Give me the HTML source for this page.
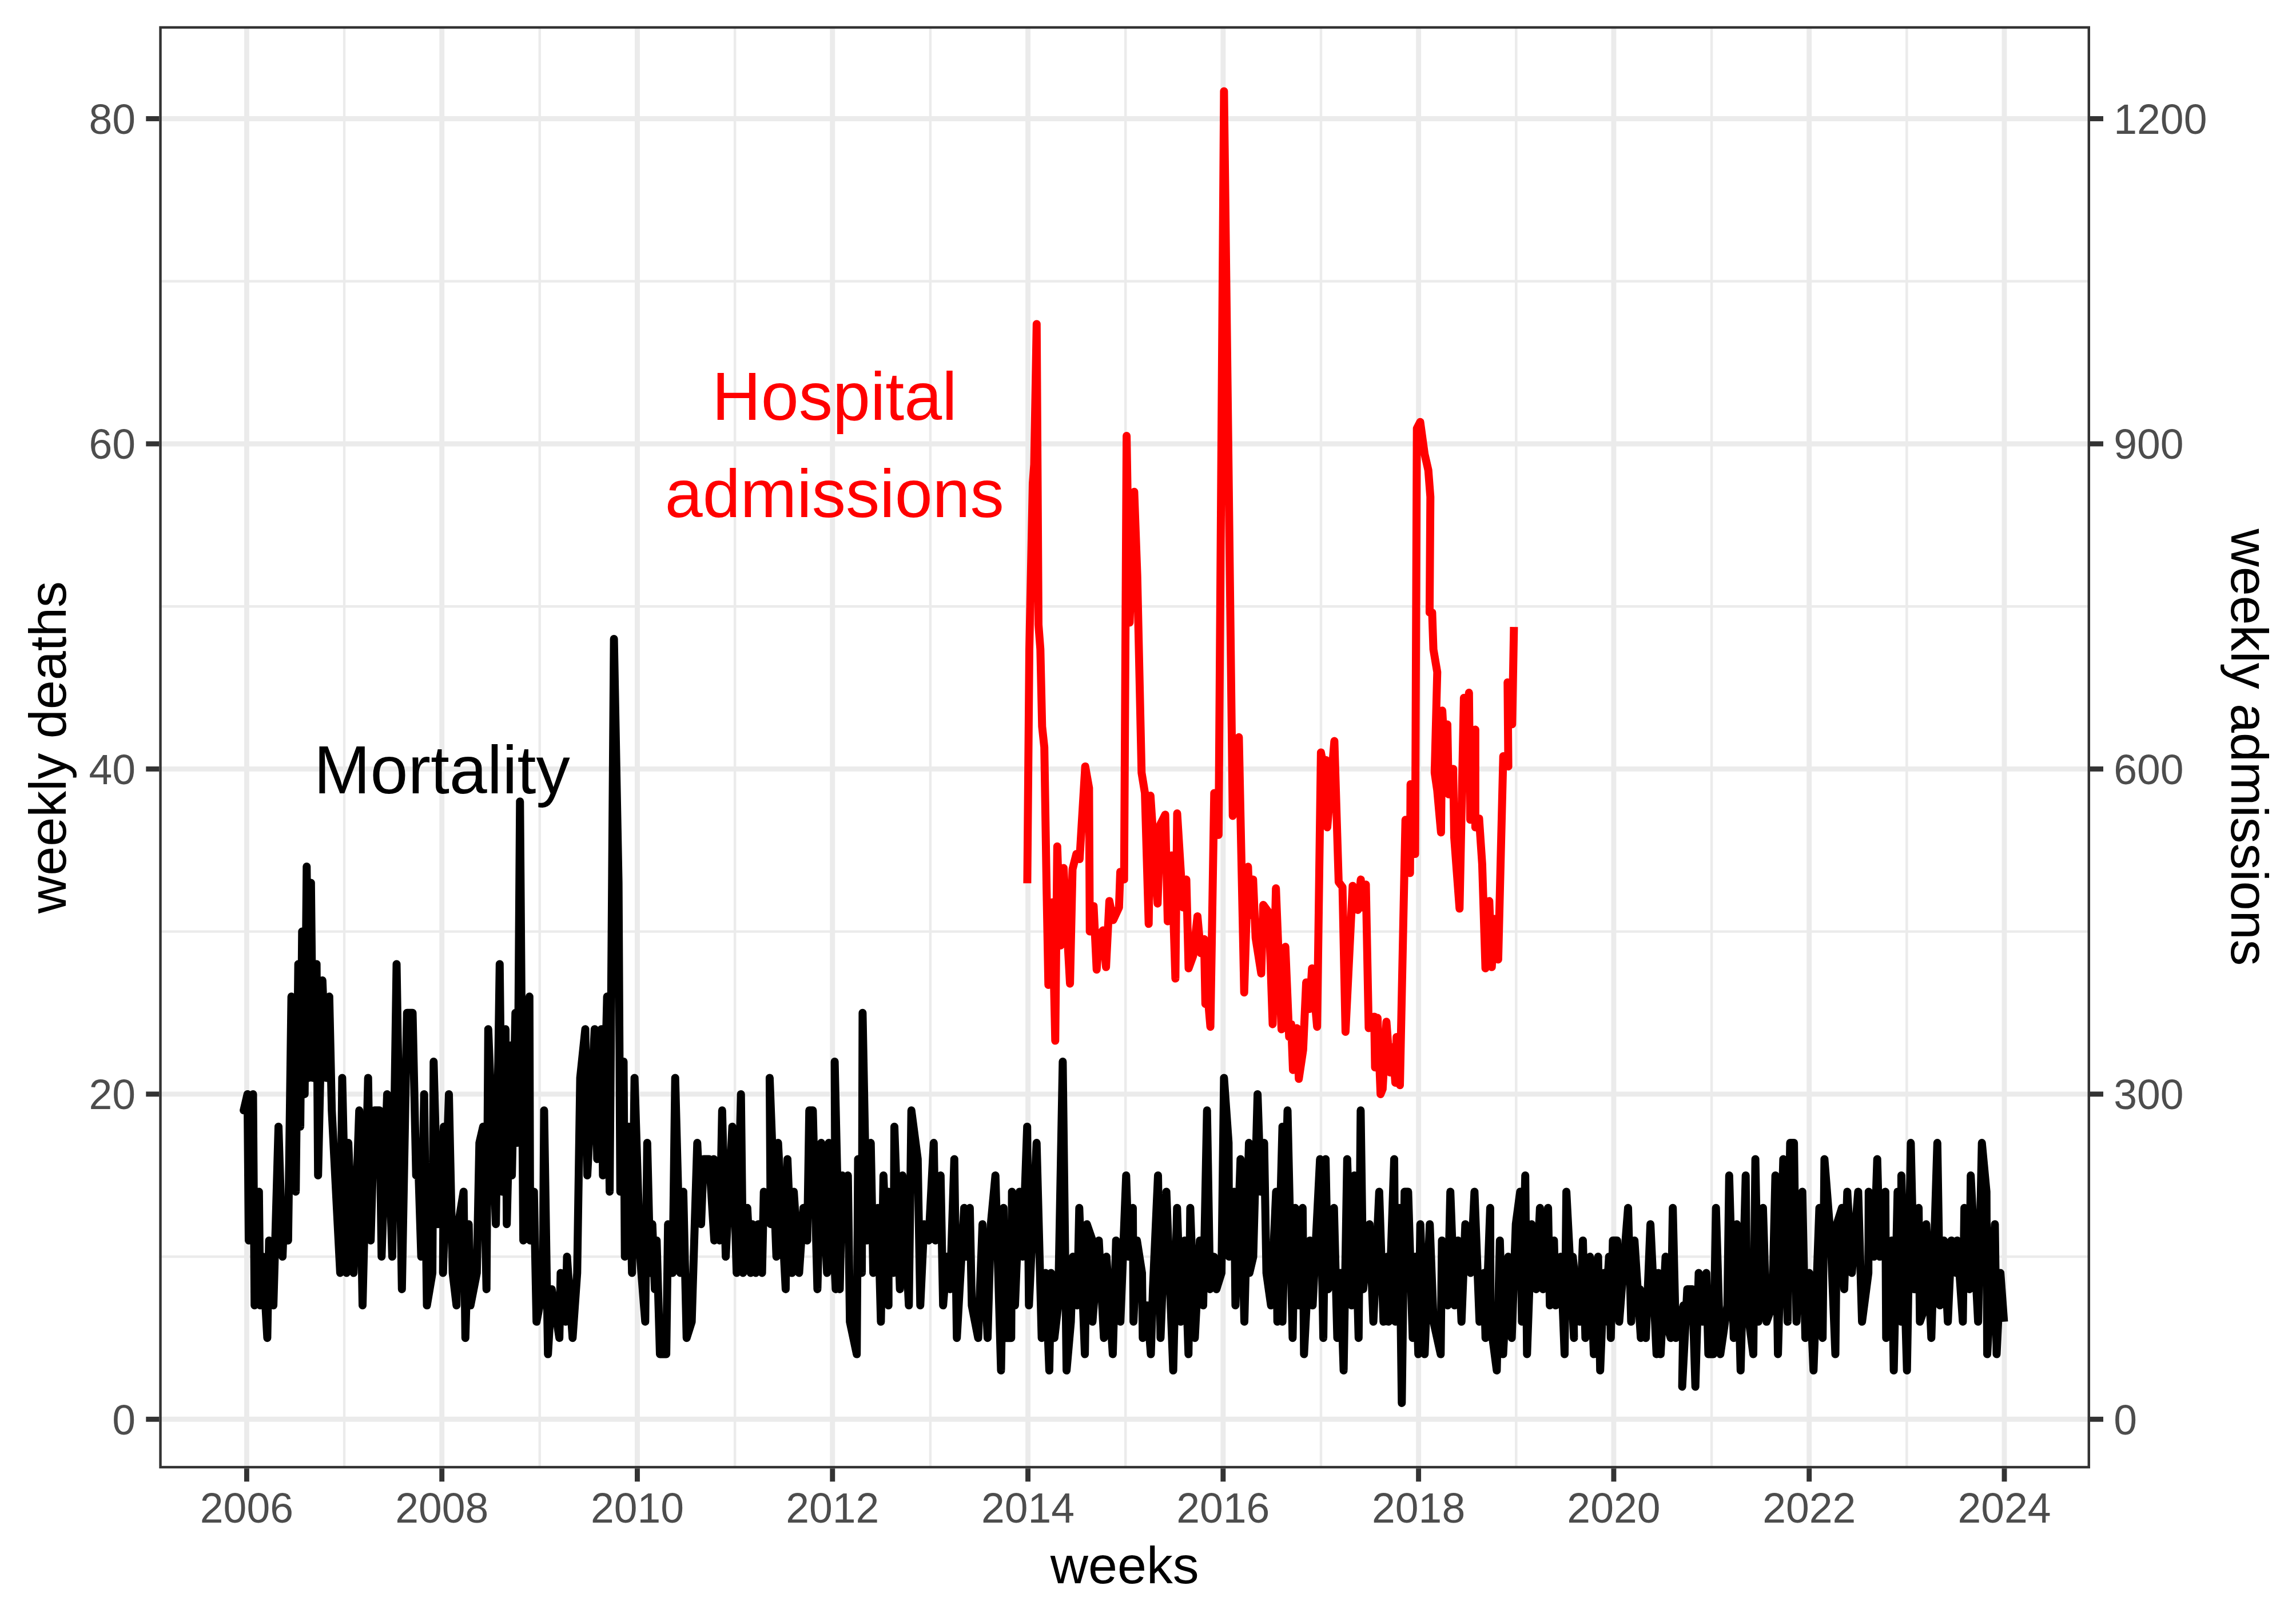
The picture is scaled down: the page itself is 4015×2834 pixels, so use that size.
<!DOCTYPE html>
<html><head><meta charset="utf-8"><style>html,body{margin:0;padding:0;background:#fff;overflow:hidden}svg{display:block}</style></head>
<body><svg width="4015" height="2834" viewBox="0 0 4015 2834">
<rect width="4015" height="2834" fill="#FFFFFF"/>
<defs><clipPath id="pc"><rect x="278.3" y="45.7" width="3376.70" height="2521.60"/></clipPath></defs>
<g clip-path="url(#pc)">
<line x1="602.05" y1="45.7" x2="602.05" y2="2567.3" stroke="#EBEBEB" stroke-width="4.45"/>
<line x1="943.82" y1="45.7" x2="943.82" y2="2567.3" stroke="#EBEBEB" stroke-width="4.45"/>
<line x1="1285.13" y1="45.7" x2="1285.13" y2="2567.3" stroke="#EBEBEB" stroke-width="4.45"/>
<line x1="1626.90" y1="45.7" x2="1626.90" y2="2567.3" stroke="#EBEBEB" stroke-width="4.45"/>
<line x1="1968.20" y1="45.7" x2="1968.20" y2="2567.3" stroke="#EBEBEB" stroke-width="4.45"/>
<line x1="2309.97" y1="45.7" x2="2309.97" y2="2567.3" stroke="#EBEBEB" stroke-width="4.45"/>
<line x1="2651.27" y1="45.7" x2="2651.27" y2="2567.3" stroke="#EBEBEB" stroke-width="4.45"/>
<line x1="2993.05" y1="45.7" x2="2993.05" y2="2567.3" stroke="#EBEBEB" stroke-width="4.45"/>
<line x1="3334.35" y1="45.7" x2="3334.35" y2="2567.3" stroke="#EBEBEB" stroke-width="4.45"/>
<line x1="278.3" y1="2197.08" x2="3655.0" y2="2197.08" stroke="#EBEBEB" stroke-width="4.45"/>
<line x1="278.3" y1="1628.63" x2="3655.0" y2="1628.63" stroke="#EBEBEB" stroke-width="4.45"/>
<line x1="278.3" y1="1060.17" x2="3655.0" y2="1060.17" stroke="#EBEBEB" stroke-width="4.45"/>
<line x1="278.3" y1="491.73" x2="3655.0" y2="491.73" stroke="#EBEBEB" stroke-width="4.45"/>
<line x1="431.40" y1="45.7" x2="431.40" y2="2567.3" stroke="#EBEBEB" stroke-width="8.9"/>
<line x1="772.70" y1="45.7" x2="772.70" y2="2567.3" stroke="#EBEBEB" stroke-width="8.9"/>
<line x1="1114.47" y1="45.7" x2="1114.47" y2="2567.3" stroke="#EBEBEB" stroke-width="8.9"/>
<line x1="1455.78" y1="45.7" x2="1455.78" y2="2567.3" stroke="#EBEBEB" stroke-width="8.9"/>
<line x1="1797.55" y1="45.7" x2="1797.55" y2="2567.3" stroke="#EBEBEB" stroke-width="8.9"/>
<line x1="2138.85" y1="45.7" x2="2138.85" y2="2567.3" stroke="#EBEBEB" stroke-width="8.9"/>
<line x1="2480.62" y1="45.7" x2="2480.62" y2="2567.3" stroke="#EBEBEB" stroke-width="8.9"/>
<line x1="2821.93" y1="45.7" x2="2821.93" y2="2567.3" stroke="#EBEBEB" stroke-width="8.9"/>
<line x1="3163.70" y1="45.7" x2="3163.70" y2="2567.3" stroke="#EBEBEB" stroke-width="8.9"/>
<line x1="3505.00" y1="45.7" x2="3505.00" y2="2567.3" stroke="#EBEBEB" stroke-width="8.9"/>
<line x1="278.3" y1="2481.30" x2="3655.0" y2="2481.30" stroke="#EBEBEB" stroke-width="8.9"/>
<line x1="278.3" y1="1912.85" x2="3655.0" y2="1912.85" stroke="#EBEBEB" stroke-width="8.9"/>
<line x1="278.3" y1="1344.40" x2="3655.0" y2="1344.40" stroke="#EBEBEB" stroke-width="8.9"/>
<line x1="278.3" y1="775.95" x2="3655.0" y2="775.95" stroke="#EBEBEB" stroke-width="8.9"/>
<line x1="278.3" y1="207.50" x2="3655.0" y2="207.50" stroke="#EBEBEB" stroke-width="8.9"/>
<polyline points="426.6,1941.3 426.1,1941.3 432.8,1912.9 435.0,2168.7 442.5,1912.9 445.2,2282.3 452.8,2083.4 455.0,2282.3 459.4,2197.1 467.4,2339.2 470.5,2168.7 478.1,2282.3 487.0,1969.7 494.1,2197.1 497.2,2111.8 503.8,2168.7 509.6,1742.3 517.2,2083.4 521.6,1685.5 525.1,1969.7 528.3,1628.6 532.7,1912.9 536.3,1514.9 540.2,1884.4 543.8,1543.4 547.4,1884.4 553.6,1685.5 556.2,2055.0 563.8,1713.9 570.5,1884.4 575.8,1742.3 580.2,1941.3 594.9,2225.5 598.4,1884.4 606.0,2225.5 609.1,1998.1 618.4,2225.5 628.2,1941.3 634.0,2282.3 643.7,1884.4 648.2,2168.7 654.8,1941.3 663.7,1941.3 667.3,2197.1 677.0,1912.9 685.9,2197.1 693.5,1685.5 702.8,2253.9 711.7,1770.7 721.5,1770.7 727.7,2055.0 731.2,2026.5 736.6,2197.1 741.7,1912.9 746.5,2282.3 756.1,2225.5 758.3,1856.0 765.9,2140.2 776.1,1969.7 774.7,2225.5 785.0,1912.9 791.6,2225.5 798.3,2282.3 801.4,2140.2 810.7,2083.4 813.8,2339.2 819.6,2140.2 822.7,2282.3 833.8,2225.5 838.3,1998.1 844.9,1969.7 850.7,2253.9 853.8,1799.2 867.1,2140.2 873.8,1685.5 878.2,2083.4 884.0,1799.2 886.2,2140.2 893.8,1827.6 895.1,2055.0 901.3,1770.7 904.9,1998.1 909.3,1401.2 915.1,2168.7 925.8,1742.3 927.1,2168.7 933.7,2083.4 938.2,2310.8 949.3,2253.9 951.5,1941.3 958.2,2367.6 964.8,2253.9 978.2,2339.2 980.4,2225.5 989.3,2310.8 991.5,2197.1 1001.3,2339.2 1009.3,2225.5 1014.6,1884.4 1023.5,1799.2 1027.0,2055.0 1039.9,1799.2 1044.3,2026.5 1051.7,1799.2 1054.3,2055.0 1061.6,1742.3 1066.1,2083.4 1073.6,1117.0 1081.6,1543.4 1084.7,2083.4 1090.5,1856.0 1092.7,2197.1 1099.4,1969.7 1105.2,2225.5 1109.6,1884.4 1119.4,2197.1 1128.3,2310.8 1131.8,1998.1 1137.2,2225.5 1140.7,2140.2 1145.1,2253.9 1148.3,2168.7 1154.0,2367.6 1165.1,2367.6 1168.2,2140.2 1176.2,2225.5 1180.7,1884.4 1189.6,2225.5 1194.9,2083.4 1200.7,2339.2 1209.6,2310.8 1219.3,1998.1 1226.0,2140.2 1230.4,2026.5 1240.2,2026.5 1249.1,2168.7 1248.2,2026.5 1258.4,2168.7 1262.8,1941.3 1269.1,2197.1 1280.6,1969.7 1288.2,2225.5 1295.7,1912.9 1299.3,2225.5 1306.8,2111.8 1312.6,2225.5 1315.7,2140.2 1321.5,2225.5 1325.9,2140.2 1332.6,2225.5 1335.7,2083.4 1347.7,2140.2 1345.9,1884.4 1357.7,2197.1 1360.6,1998.1 1373.9,2253.9 1377.0,2026.5 1385.0,2225.5 1388.1,2083.4 1397.4,2225.5 1405.0,2111.8 1411.6,2168.7 1415.2,1941.3 1421.4,1941.3 1429.4,2253.9 1436.1,1998.1 1446.3,2225.5 1449.4,1998.1 1461.4,2253.9 1459.6,1856.0 1468.5,2253.9 1472.9,2055.0 1477.4,2140.2 1482.7,2055.0 1486.2,2310.8 1498.2,2367.6 1500.5,2026.5 1507.1,2225.5 1508.4,1770.7 1516.0,2168.7 1522.7,1998.1 1527.1,2225.5 1535.1,2111.8 1540.4,2310.8 1544.9,2055.0 1553.7,2282.3 1553.7,2083.4 1562.6,2225.5 1564.0,1969.7 1573.7,2253.9 1578.2,2055.0 1589.3,2282.3 1593.7,1941.3 1604.8,2026.5 1609.3,2282.3 1615.9,2140.2 1623.9,2168.7 1632.8,1998.1 1635.9,2168.7 1644.8,2055.0 1649.2,2282.3 1655.9,2197.1 1661.4,2253.9 1668.8,2026.5 1673.2,2339.2 1686.1,2111.8 1688.3,2197.1 1695.9,2111.8 1699.4,2282.3 1710.5,2339.2 1718.1,2140.2 1727.0,2339.2 1732.7,2140.2 1740.7,2055.0 1750.5,2396.0 1754.9,2111.8 1759.4,2339.2 1768.3,2339.2 1769.6,2083.4 1774.9,2282.3 1782.9,2083.4 1788.2,2197.1 1796.2,1969.7 1799.3,2282.3 1812.7,1998.1 1821.6,2339.2 1828.2,2225.5 1834.9,2396.0 1838.0,2225.5 1843.8,2339.2 1850.4,2282.3 1858.4,1856.0 1865.1,2396.0 1872.6,2310.8 1876.2,2197.1 1883.7,2282.3 1887.3,2111.8 1897.1,2367.6 1900.6,2140.2 1910.4,2168.7 1910.4,2310.8 1921.5,2168.7 1930.4,2339.2 1934.8,2197.1 1945.9,2367.6 1951.7,2168.7 1959.2,2310.8 1969.3,2055.0 1973.9,2197.1 1981.0,2111.8 1982.1,2310.8 1988.1,2168.7 1997.0,2225.5 1998.3,2339.2 2005.9,2282.3 2012.5,2367.6 2016.1,2253.9 2025.0,2055.0 2029.4,2339.2 2039.6,2083.4 2051.6,2396.0 2058.3,2111.8 2064.9,2310.8 2071.6,2168.7 2078.3,2367.6 2081.4,2111.8 2089.4,2339.2 2098.2,2168.7 2104.0,2282.3 2110.7,1941.3 2116.0,2253.9 2122.7,2197.1 2127.1,2253.9 2136.0,2225.5 2140.4,1884.4 2148.4,1998.1 2149.3,2197.1 2158.2,2083.4 2160.4,2282.3 2169.3,2026.5 2176.0,2310.8 2184.0,1998.1 2184.9,2225.5 2191.5,2197.1 2199.1,1912.9 2204.8,2083.4 2210.6,1998.1 2214.6,2225.5 2222.6,2282.3 2231.5,2083.4 2233.7,2310.8 2242.6,1969.7 2242.6,2310.8 2251.5,1941.3 2260.4,2339.2 2264.8,2111.8 2271.5,2282.3 2277.9,2111.8 2280.3,2367.6 2290.6,2168.7 2295.4,2282.3 2308.3,2026.5 2314.1,2339.2 2318.1,2026.5 2322.5,2253.9 2332.7,2111.8 2338.5,2339.2 2343.8,2225.5 2349.6,2396.0 2355.8,2026.5 2363.8,2282.3 2368.3,2055.0 2375.8,2339.2 2379.4,1941.3 2383.8,2253.9 2394.9,2140.2 2401.6,2310.8 2411.8,2083.4 2419.3,2310.8 2426.0,2197.1 2428.2,2310.8 2438.0,2026.5 2440.2,2310.8 2446.9,2111.8 2451.3,2452.9 2456.2,2083.4 2462.4,2083.4 2470.4,2339.2 2474.9,2197.1 2480.2,2367.6 2483.7,2140.2 2491.3,2367.6 2500.2,2140.2 2506.8,2310.8 2519.3,2367.6 2521.5,2168.7 2531.7,2282.3 2536.2,2083.4 2543.7,2282.3 2549.5,2168.7 2555.7,2310.8 2562.4,2140.2 2571.7,2225.5 2578.4,2083.4 2587.2,2310.8 2594.8,2225.5 2597.7,2339.2 2605.9,2111.8 2606.3,2310.8 2617.4,2396.0 2622.8,2168.7 2628.5,2367.6 2637.4,2197.1 2643.6,2339.2 2650.7,2140.2 2658.3,2083.4 2661.4,2310.8 2667.2,2055.0 2670.3,2367.6 2678.3,2140.2 2686.3,2253.9 2692.9,2111.8 2698.3,2253.9 2707.1,2111.8 2710.2,2282.3 2717.4,2168.7 2720.5,2282.3 2729.3,2197.1 2736.0,2367.6 2739.1,2083.4 2752.4,2339.2 2750.2,2197.1 2762.7,2310.8 2768.0,2168.7 2772.4,2339.2 2780.4,2197.1 2787.1,2367.6 2794.6,2197.1 2798.2,2396.0 2804.9,2225.5 2807.1,2310.8 2813.7,2197.1 2816.8,2339.2 2820.4,2168.7 2827.9,2168.7 2831.5,2310.8 2847.0,2111.8 2852.4,2310.8 2858.2,2168.7 2869.3,2339.2 2867.9,2253.9 2878.1,2339.2 2886.1,2140.2 2896.8,2367.6 2899.9,2225.5 2903.9,2367.6 2912.6,2197.1 2913.2,2310.8 2921.6,2339.2 2925.2,2111.8 2930.5,2339.2 2943.9,2282.3 2941.6,2424.5 2950.5,2253.9 2955.0,2253.9 2959.4,2253.9 2964.7,2424.5 2970.5,2225.5 2977.2,2310.8 2983.8,2225.5 2987.4,2367.6 2996.3,2367.6 3000.7,2111.8 3008.3,2367.6 3020.7,2282.3 3023.8,2055.0 3031.8,2339.2 3037.1,2140.2 3043.8,2396.0 3052.7,2055.0 3054.9,2282.3 3066.0,2367.6 3069.6,2026.5 3074.9,2310.8 3082.9,2111.8 3089.1,2310.8 3099.3,2282.3 3104.6,2055.0 3109.1,2367.6 3118.4,2026.5 3126.0,2310.8 3130.4,1998.1 3137.1,1998.1 3141.5,2310.8 3151.7,2083.4 3157.0,2339.2 3163.7,2225.5 3171.3,2396.0 3181.5,2111.8 3187.2,2339.2 3190.4,2026.5 3201.5,2168.7 3209.5,2367.6 3212.1,2140.2 3221.0,2111.8 3225.0,2253.9 3230.3,2083.4 3238.3,2225.5 3249.4,2083.4 3256.1,2310.8 3267.2,2225.5 3267.8,2083.4 3277.0,2197.1 3282.7,2026.5 3287.2,2197.1 3296.9,2083.4 3298.3,2339.2 3308.0,2168.7 3311.6,2396.0 3318.3,2083.4 3324.9,2310.8 3324.9,2055.0 3334.7,2396.0 3341.4,1998.1 3347.1,2253.9 3355.1,2111.8 3357.3,2310.8 3367.1,2282.3 3368.4,2140.2 3377.3,2339.2 3387.8,1998.1 3392.4,2282.3 3399.1,2168.7 3406.2,2310.8 3412.4,2168.7 3420.4,2225.5 3422.6,2168.7 3432.4,2310.8 3435.1,2111.8 3444.0,2253.9 3446.2,2055.0 3459.1,2310.8 3465.7,1998.1 3473.7,2083.4 3475.0,2367.6 3488.4,2140.2 3491.5,2367.6 3498.1,2225.5 3504.4,2310.8" fill="none" stroke="#000000" stroke-width="14.0" stroke-linejoin="round" stroke-linecap="butt"/><polyline points="1796.4,1544.2 1800.0,1136.0 1806.0,845.0 1808.5,812.0 1812.8,566.5 1816.0,1092.0 1819.3,1135.0 1822.3,1270.0 1826.2,1306.6 1830.2,1555.3 1833.3,1721.9 1840.0,1577.5 1845.3,1819.6 1848.8,1479.8 1854.6,1653.0 1859.9,1517.6 1871.1,1719.7 1875.5,1519.8 1882.2,1493.1 1887.9,1502.0 1897.7,1339.9 1904.4,1377.7 1905.7,1628.6 1912.4,1584.2 1917.7,1695.2 1922.1,1635.3 1928.8,1626.4 1934.1,1690.8 1939.9,1575.3 1946.6,1608.6 1956.8,1586.4 1959.0,1524.2 1965.7,1537.6 1970.1,762.1 1975.4,1088.5 1983.4,859.8 1988.7,1006.4 1996.3,1351.0 2002.1,1386.5 2008.7,1615.3 2011.8,1391.0 2024.3,1579.7 2028.7,1442.1 2037.6,1424.3 2042.0,1610.8 2048.7,1495.4 2055.4,1710.8 2058.5,1422.1 2068.7,1586.4 2074.5,1537.6 2078.5,1693.0 2086.5,1670.8 2094.0,1602.0 2099.8,1666.4 2105.6,1641.9 2107.8,1755.2 2111.3,1733.0 2116.6,1795.2 2123.3,1386.5 2130.9,1459.8 2140.4,159.5 2155.7,1426.5 2166.4,1288.8 2175.7,1735.2 2182.4,1515.3 2185.5,1599.7 2191.3,1537.6 2195.7,1639.7 2205.5,1701.9 2209.0,1582.0 2218.8,1595.3 2225.5,1790.7 2231.2,1553.1 2241.0,1799.6 2247.7,1655.3 2254.3,1812.9 2257.9,1790.7 2261.0,1870.7 2267.7,1797.4 2271.2,1886.2 2278.8,1835.1 2284.1,1717.4 2289.9,1764.1 2294.3,1693.0 2303.2,1795.2 2309.9,1315.5 2315.6,1346.6 2318.7,1328.8 2321.0,1446.5 2333.4,1295.5 2340.9,1542.0 2347.6,1550.9 2352.9,1804.0 2365.4,1548.7 2374.3,1590.9 2379.6,1537.6 2383.1,1586.4 2388.5,1546.4 2393.4,1797.4 2403.1,1777.4 2404.5,1866.2 2408.9,1779.6 2414.2,1912.9 2417.8,1904.0 2424.4,1786.3 2431.1,1875.1 2435.5,1830.7 2440.0,1892.9 2442.2,1812.9 2448.0,1897.3 2457.7,1433.2 2465.7,1526.4 2466.6,1371.0 2474.6,1493.1 2477.7,748.9 2483.5,737.8 2491.1,793.3 2497.7,822.1 2501.3,868.8 2499.9,1070.9 2504.4,1070.9 2506.6,1135.3 2513.3,1175.2 2508.8,1351.0 2513.3,1382.1 2519.9,1455.4 2522.1,1242.2 2526.6,1324.4 2531.0,1266.6 2533.2,1388.8 2541.2,1344.3 2543.0,1464.3 2552.3,1588.6 2559.9,1220.0 2564.3,1333.2 2568.8,1211.1 2571.0,1433.2 2579.9,1275.5 2579.9,1446.5 2586.5,1431.0 2591.9,1510.9 2597.6,1693.0 2604.3,1575.3 2608.7,1690.8 2613.2,1606.4 2619.9,1677.5 2628.7,1322.1 2637.6,1339.9 2636.3,1193.0 2644.3,1266.3 2647.4,1096.2" fill="none" stroke="#FF0000" stroke-width="14.0" stroke-linejoin="round" stroke-linecap="butt"/>
<rect x="278.3" y="45.7" width="3376.70" height="2521.60" fill="none" stroke="#333333" stroke-width="8.9"/>
</g>
<line x1="431.40" y1="2567.3" x2="431.40" y2="2590.3" stroke="#333333" stroke-width="8.9"/>
<line x1="772.70" y1="2567.3" x2="772.70" y2="2590.3" stroke="#333333" stroke-width="8.9"/>
<line x1="1114.47" y1="2567.3" x2="1114.47" y2="2590.3" stroke="#333333" stroke-width="8.9"/>
<line x1="1455.78" y1="2567.3" x2="1455.78" y2="2590.3" stroke="#333333" stroke-width="8.9"/>
<line x1="1797.55" y1="2567.3" x2="1797.55" y2="2590.3" stroke="#333333" stroke-width="8.9"/>
<line x1="2138.85" y1="2567.3" x2="2138.85" y2="2590.3" stroke="#333333" stroke-width="8.9"/>
<line x1="2480.62" y1="2567.3" x2="2480.62" y2="2590.3" stroke="#333333" stroke-width="8.9"/>
<line x1="2821.93" y1="2567.3" x2="2821.93" y2="2590.3" stroke="#333333" stroke-width="8.9"/>
<line x1="3163.70" y1="2567.3" x2="3163.70" y2="2590.3" stroke="#333333" stroke-width="8.9"/>
<line x1="3505.00" y1="2567.3" x2="3505.00" y2="2590.3" stroke="#333333" stroke-width="8.9"/>
<line x1="255.3" y1="2481.30" x2="278.3" y2="2481.30" stroke="#333333" stroke-width="8.9"/>
<line x1="3655.0" y1="2481.30" x2="3678.0" y2="2481.30" stroke="#333333" stroke-width="8.9"/>
<line x1="255.3" y1="1912.85" x2="278.3" y2="1912.85" stroke="#333333" stroke-width="8.9"/>
<line x1="3655.0" y1="1912.85" x2="3678.0" y2="1912.85" stroke="#333333" stroke-width="8.9"/>
<line x1="255.3" y1="1344.40" x2="278.3" y2="1344.40" stroke="#333333" stroke-width="8.9"/>
<line x1="3655.0" y1="1344.40" x2="3678.0" y2="1344.40" stroke="#333333" stroke-width="8.9"/>
<line x1="255.3" y1="775.95" x2="278.3" y2="775.95" stroke="#333333" stroke-width="8.9"/>
<line x1="3655.0" y1="775.95" x2="3678.0" y2="775.95" stroke="#333333" stroke-width="8.9"/>
<line x1="255.3" y1="207.50" x2="278.3" y2="207.50" stroke="#333333" stroke-width="8.9"/>
<line x1="3655.0" y1="207.50" x2="3678.0" y2="207.50" stroke="#333333" stroke-width="8.9"/>
<text x="431.40" y="2662" font-family="Liberation Sans, sans-serif" font-size="73.33" fill="#4D4D4D" text-anchor="middle">2006</text>
<text x="772.70" y="2662" font-family="Liberation Sans, sans-serif" font-size="73.33" fill="#4D4D4D" text-anchor="middle">2008</text>
<text x="1114.47" y="2662" font-family="Liberation Sans, sans-serif" font-size="73.33" fill="#4D4D4D" text-anchor="middle">2010</text>
<text x="1455.78" y="2662" font-family="Liberation Sans, sans-serif" font-size="73.33" fill="#4D4D4D" text-anchor="middle">2012</text>
<text x="1797.55" y="2662" font-family="Liberation Sans, sans-serif" font-size="73.33" fill="#4D4D4D" text-anchor="middle">2014</text>
<text x="2138.85" y="2662" font-family="Liberation Sans, sans-serif" font-size="73.33" fill="#4D4D4D" text-anchor="middle">2016</text>
<text x="2480.62" y="2662" font-family="Liberation Sans, sans-serif" font-size="73.33" fill="#4D4D4D" text-anchor="middle">2018</text>
<text x="2821.93" y="2662" font-family="Liberation Sans, sans-serif" font-size="73.33" fill="#4D4D4D" text-anchor="middle">2020</text>
<text x="3163.70" y="2662" font-family="Liberation Sans, sans-serif" font-size="73.33" fill="#4D4D4D" text-anchor="middle">2022</text>
<text x="3505.00" y="2662" font-family="Liberation Sans, sans-serif" font-size="73.33" fill="#4D4D4D" text-anchor="middle">2024</text>
<text x="237.00" y="2507.50" font-family="Liberation Sans, sans-serif" font-size="73.33" fill="#4D4D4D" text-anchor="end">0</text>
<text x="3696.30" y="2507.50" font-family="Liberation Sans, sans-serif" font-size="73.33" fill="#4D4D4D" text-anchor="start">0</text>
<text x="237.00" y="1939.05" font-family="Liberation Sans, sans-serif" font-size="73.33" fill="#4D4D4D" text-anchor="end">20</text>
<text x="3696.30" y="1939.05" font-family="Liberation Sans, sans-serif" font-size="73.33" fill="#4D4D4D" text-anchor="start">300</text>
<text x="237.00" y="1370.60" font-family="Liberation Sans, sans-serif" font-size="73.33" fill="#4D4D4D" text-anchor="end">40</text>
<text x="3696.30" y="1370.60" font-family="Liberation Sans, sans-serif" font-size="73.33" fill="#4D4D4D" text-anchor="start">600</text>
<text x="237.00" y="802.15" font-family="Liberation Sans, sans-serif" font-size="73.33" fill="#4D4D4D" text-anchor="end">60</text>
<text x="3696.30" y="802.15" font-family="Liberation Sans, sans-serif" font-size="73.33" fill="#4D4D4D" text-anchor="start">900</text>
<text x="237.00" y="233.70" font-family="Liberation Sans, sans-serif" font-size="73.33" fill="#4D4D4D" text-anchor="end">80</text>
<text x="3696.30" y="233.70" font-family="Liberation Sans, sans-serif" font-size="73.33" fill="#4D4D4D" text-anchor="start">1200</text>
<text x="1966.65" y="2767.5" font-family="Liberation Sans, sans-serif" font-size="91.67" fill="#000000" text-anchor="middle">weeks</text>
<text transform="translate(114.5 1306.50) rotate(-90)" x="0" y="0" font-family="Liberation Sans, sans-serif" font-size="91.67" fill="#000000" text-anchor="middle">weekly deaths</text>
<text transform="translate(3901.7 1306.50) rotate(90)" x="0" y="0" font-family="Liberation Sans, sans-serif" font-size="91.67" fill="#000000" text-anchor="middle">weekly admissions</text>
<text x="772.70" y="1387" font-family="Liberation Sans, sans-serif" font-size="118.6" fill="#000000" text-anchor="middle">Mortality</text><text x="1459.28" y="733.5" font-family="Liberation Sans, sans-serif" font-size="118.6" fill="#FF0000" text-anchor="middle">Hospital</text><text x="1459.28" y="904" font-family="Liberation Sans, sans-serif" font-size="118.6" fill="#FF0000" text-anchor="middle">admissions</text>
</svg></body></html>
